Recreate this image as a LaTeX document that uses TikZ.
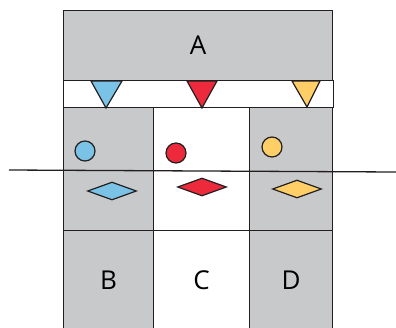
\documentclass[tikz,border=0pt]{standalone}
\usepackage{fontspec}
\setsansfont{Open Sans}
\usetikzlibrary{shapes.geometric, positioning}
\definecolor{cellGray}{HTML}{C8C9CB}
\definecolor{inkDark}{HTML}{231F20}
\definecolor{markBlue}{HTML}{7AC3E6}
\definecolor{markRed}{HTML}{EC2A3B}
\definecolor{markYellow}{HTML}{FFCE67}
\tikzset{
    font=\sffamily,
    % Cells
    cell/.style={rectangle, draw=inkDark, line width=1.3pt, inner sep=0pt,
                 anchor=north west, font=\fontsize{26}{30}\sffamily},
    grayCell/.style={cell, fill=cellGray},
    whiteCell/.style={cell, fill=white},
    % Markers
    dot/.style={circle, draw=inkDark, line width=1.2pt, minimum size=20pt, inner sep=0pt},
    gem/.style={diamond, draw=inkDark, line width=1.2pt,
                minimum width=49pt, minimum height=18pt, inner sep=0pt},
    tip/.style={draw=inkDark, line width=1.2pt, line join=miter},
    rule/.style={draw=inkDark, line width=1.3pt}
}

\begin{document}
\begin{tikzpicture}[x=1pt, y=-1pt]
\useasboundingbox (0,0) rectangle (396,327);

% top block and strip
\node[grayCell, minimum width=269pt, minimum height=70pt] (A) at (63,10) {A};
\node[whiteCell, minimum width=270pt, minimum height=27pt] (strip) at (63,80) {};

% upper cells
\node[grayCell, minimum width=90pt, minimum height=123pt] (topB) at (63,107) {};
\node[whiteCell, minimum width=96pt, minimum height=123pt] (topC) at (153,107) {};
\node[grayCell, minimum width=83pt, minimum height=123pt] (topD) at (249,107) {};

% lower cells
\node[grayCell, minimum width=90pt, minimum height=100pt] (B) at (63,230) {B};
\node[whiteCell, minimum width=96pt, minimum height=100pt] (C) at (153,230) {C};
\node[grayCell, minimum width=83pt, minimum height=100pt] (D) at (249,230) {D};

% long line
\coordinate (lineW) at (9,170);
\coordinate (lineE) at (396,172);
\draw[rule] (lineW) -- (lineE);

% triangles
\draw[tip, fill=markBlue] (91,81) -- (122,81) -- (106,108) -- cycle;
\draw[tip, fill=markRed] (187,81) -- (217,81) -- (202,108) -- cycle;
\draw[tip, fill=markYellow] (292,81) -- (320,81) -- (307,107) -- cycle;

% circles
\node[dot, fill=markBlue] (dotB) at (85,151) {};
\node[dot, fill=markRed] (dotC) at (176,153) {};
\node[dot, fill=markYellow] (dotD) at (272,147) {};

% diamonds
\node[gem, fill=markBlue] (gemB) at (112,191) {};
\node[gem, fill=markRed] (gemC) at (202,187) {};
\node[gem, fill=markYellow] (gemD) at (297,189) {};

\end{tikzpicture}
\end{document}
